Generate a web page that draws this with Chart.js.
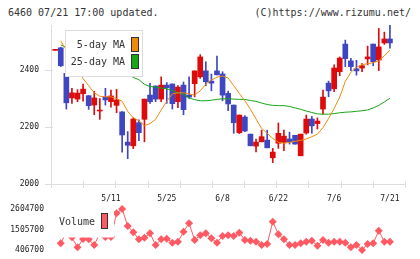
<!DOCTYPE html>
<html>
<head>
<meta charset="utf-8">
<script src="https://cdn.jsdelivr.net/npm/chart.js@4/dist/chart.umd.min.js"></script>
<style>
  body { margin: 0; background: #fff; }
  #wrap { position: relative; width: 420px; height: 259px; overflow: hidden; }
  .head { position: absolute; top: 7px; font: 10px "DejaVu Sans Mono", monospace; color: #333; white-space: pre; }
  canvas { position: absolute; left: 0; }
</style>
</head>
<body>
<div id="wrap">
  <div class="head" style="left:8px">6460 07/21 17:00 updated.</div>
  <div class="head" style="right:9px">(C)https://www.rizumu.net/</div>
  <canvas id="price" width="420" height="205" style="top:0"></canvas>
  <canvas id="volume" width="420" height="60" style="top:199px"></canvas>
</div>
<script>
// trading days shown on the chart
const dates = ["4/21","4/22","4/23","4/24","4/27","4/28","4/30","5/1","5/7","5/8",
  "5/11","5/12","5/13","5/14","5/15","5/18","5/19","5/20","5/21","5/22",
  "5/25","5/26","5/27","5/28","5/29","6/1","6/2","6/3","6/4","6/5",
  "6/8","6/9","6/10","6/11","6/12","6/15","6/16","6/17","6/18","6/19",
  "6/22","6/23","6/24","6/25","6/26","6/29","6/30","7/1","7/2","7/3",
  "7/6","7/7","7/8","7/9","7/10","7/13","7/14","7/15","7/16","7/17","7/21"];
const labelIdx = [10, 20, 30, 40, 50, 60];
const priceTicks = [2000, 2200, 2400];
const volumeTicks = [406700, 1505700, 2604700];

const opens  = [2469,2478,2388,2302,2298,2317,2310,2277,2256,2306,2289,2276,2253,2147,2134,2215,2227,2312,2344,2298,
  2347,2351,2289,2347,2312,2352,2376,2397,2361,2397,2386,2318,2277,2180,2235,2175,2133,2148,2154,2092,
  2143,2146,2158,2171,2099,2179,2228,2212,2263,2354,2334,2394,2491,2432,2404,2407,2439,2491,2435,2495,2509];
const highs  = [2469,2480,2390,2336,2331,2351,2310,2325,2300,2336,2330,2332,2254,2184,2233,2225,2298,2353,2344,2376,
  2356,2351,2345,2358,2376,2397,2454,2429,2386,2449,2394,2326,2277,2242,2240,2175,2158,2189,2189,2125,
  2214,2189,2182,2171,2175,2242,2237,2232,2330,2361,2418,2446,2505,2441,2434,2423,2484,2491,2546,2533,2558];
const lows   = [2469,2412,2263,2283,2289,2291,2262,2243,2227,2277,2270,2250,2112,2089,2124,2152,2148,2283,2289,2289,
  2283,2263,2268,2243,2300,2306,2371,2345,2327,2383,2292,2257,2178,2177,2184,2134,2113,2148,2127,2075,
  2125,2117,2140,2140,2099,2175,2178,2193,2245,2306,2324,2380,2412,2398,2382,2394,2418,2415,2398,2490,2477];
const closes = [2469,2415,2285,2320,2319,2333,2275,2302,2257,2295,2309,2295,2172,2136,2228,2180,2298,2289,2298,2347,
  2338,2282,2340,2261,2305,2397,2446,2359,2354,2383,2312,2281,2215,2242,2186,2134,2147,2166,2127,2112,
  2178,2168,2148,2140,2175,2228,2204,2221,2305,2327,2407,2442,2440,2412,2397,2415,2446,2429,2481,2509,2495];

const ma5  = [null,2502,2470,2435,2400,2370,2345,2320,2308,2306,2306,2300,2290,2255,2232,2222,2205,2212,2227,2260,
  2290,2316,2320,2320,2316,2312,2327,2350,2365,2375,2379,2372,2345,2318,2292,2262,2228,2195,2178,2160,
  2146,2143,2146,2150,2153,2158,2166,2175,2198,2230,2265,2305,2360,2392,2410,2419,2422,2426,2432,2450,2470];
const ma25 = [null,2488,2480,2472,2465,2458,2450,2443,2436,2428,2420,2410,2398,2385,2374,2366,2350,2342,2340,2337,
  2334,2328,2320,2314,2302,2296,2292,2292,2294,2297,2299,2299,2298,2297,2297,2293,2290,2284,2279,2276,
  2275,2275,2272,2267,2262,2256,2251,2246,2245,2245,2247,2250,2252,2253,2255,2257,2260,2267,2276,2288,2301];

const volumes = [null,764000,1350000,1086000,550000,996000,978000,675000,1300000,1100000,1100000,2372000,2604700,1693000,1354000,978000,1068000,1300000,675000,978000,
  1014000,800000,853000,1390000,1836000,943000,1193000,1300000,1032000,800000,1157000,1193000,1157000,1336000,943000,907000,853000,675000,728000,1926000,
  1247000,978000,675000,675000,764000,853000,907000,639000,943000,800000,853000,853000,800000,550000,675000,406700,728000,764000,1443000,853000,853000];

const RED = "#dd0b0b", BLUE = "#3e46c2", ORANGE = "#f08a0c", GREEN = "#16a616", VOL = "#ff5a64", AXIS = "#dddddd";
const tickFont = { family: "DejaVu Sans Mono", size: 8 };
const xMin = -0.75, xMax = 62.7;

const candleColor = closes.map((c, i) => c >= opens[i] ? RED : BLUE);

const axisMarks = {
  id: "axisMarks",
  afterDraw(chart) {
    if (chart.canvas.id !== "price") return;
    const { ctx, chartArea: a, scales } = chart;
    ctx.save();
    ctx.strokeStyle = AXIS;
    ctx.lineWidth = 1;
    ctx.beginPath();
    for (let k = 0; k <= 11; k++) {
      const x = Math.round(a.left + (a.right - a.left) * k / 11) + 0.5;
      ctx.moveTo(x, a.bottom - 3);
      ctx.lineTo(x, a.bottom + 4);
    }
    priceTicks.forEach(v => {
      const y = Math.round(scales.y.getPixelForValue(v)) + 0.5;
      ctx.moveTo(a.left - 6, y);
      ctx.lineTo(a.left + 2, y);
    });
    ctx.stroke();
    ctx.restore();
  }
};

function swatch(ctx, x, y, w, h, color) {
  ctx.fillStyle = color;
  ctx.fillRect(x, y, w, h);
  ctx.strokeStyle = "#333";
  ctx.lineWidth = 1;
  ctx.strokeRect(x + 0.5, y + 0.5, w - 1, h - 1);
}

const boxLegend = {
  id: "boxLegend",
  afterDatasetsDraw(chart) {
    const ctx = chart.ctx;
    ctx.save();
    ctx.font = "10px 'DejaVu Sans Mono'";
    ctx.textAlign = "right";
    ctx.textBaseline = "middle";
    if (chart.canvas.id === "price") {
      ctx.fillStyle = "#fff";
      ctx.fillRect(65, 30, 78, 47);
      ctx.strokeStyle = AXIS;
      ctx.strokeRect(65.5, 30.5, 77, 46);
      ctx.fillStyle = "#333";
      ctx.fillText("5-day MA", 125, 45);
      ctx.fillText("25-day MA", 125, 62);
      swatch(ctx, 131, 37, 8, 15, ORANGE);
      swatch(ctx, 131, 54, 8, 15, GREEN);
    } else {
      // canvas starts at page y 199
      ctx.fillStyle = "#fff";
      ctx.fillRect(56, 8, 58, 30.5);
      ctx.fillStyle = "#333";
      ctx.fillText("Volume", 95, 23);
      swatch(ctx, 101, 14, 7, 16, VOL);
    }
    ctx.restore();
  }
};

const plain = v => String(v);

new Chart(document.getElementById("price"), {
  type: "bar",
  data: {
    datasets: [
      { type: "line", label: "5-day MA", data: ma5.map((v, i) => ({ x: i, y: v })), borderColor: ORANGE, borderWidth: 1, pointRadius: 0, order: 0 },
      { type: "line", label: "25-day MA", data: ma25.map((v, i) => ({ x: i, y: v })), borderColor: GREEN, borderWidth: 1, pointRadius: 0, order: 0 },
      { label: "body", data: opens.map((o, i) => ({ x: i, y: [o, closes[i]] })), backgroundColor: candleColor, barThickness: 5, minBarLength: 1, grouped: false, order: 1 },
      { label: "wick", data: lows.map((l, i) => ({ x: i, y: [l, highs[i]] })), backgroundColor: candleColor, barThickness: 1, minBarLength: 1, grouped: false, order: 2 }
    ]
  },
  options: {
    responsive: false,
    animation: false,
    devicePixelRatio: 1,
    layout: { padding: { top: 25, right: 15, left: 0, bottom: 0 } },
    plugins: { legend: { display: false }, tooltip: { enabled: false } },
    scales: {
      x: {
        type: "linear", min: xMin, max: xMax, offset: false,
        grid: { display: false, drawTicks: false },
        border: { color: AXIS },
        afterBuildTicks: s => { s.ticks = labelIdx.map(v => ({ value: v })); },
        afterFit: s => { s.height = 21; },
        ticks: { font: tickFont, color: "#222", padding: 10, maxRotation: 0, autoSkip: false, callback: v => dates[v] }
      },
      y: {
        min: 2000, max: 2558,
        grid: { display: false, drawTicks: false },
        border: { color: AXIS },
        afterBuildTicks: s => { s.ticks = priceTicks.map(v => ({ value: v })); },
        afterFit: s => { s.width = 51; s.paddingTop = 0; s.paddingBottom = 0; },
        ticks: { font: tickFont, color: "#222", padding: 12, callback: plain }
      }
    }
  },
  plugins: [axisMarks, boxLegend]
});

new Chart(document.getElementById("volume"), {
  type: "line",
  data: {
    datasets: [{
      label: "Volume",
      data: volumes.map((v, i) => ({ x: i, y: v })),
      borderColor: VOL, backgroundColor: VOL, borderWidth: 1,
      pointStyle: "rectRot", pointRadius: 4, pointBorderWidth: 0, clip: false
    }]
  },
  options: {
    responsive: false,
    animation: false,
    devicePixelRatio: 1,
    layout: { padding: { top: 10, right: 15, left: 0, bottom: 9 } },
    plugins: { legend: { display: false }, tooltip: { enabled: false } },
    scales: {
      x: { type: "linear", min: xMin, max: xMax, display: false },
      y: {
        min: 406700, max: 2604700,
        grid: { display: false, drawTicks: false },
        border: { display: false },
        afterBuildTicks: s => { s.ticks = volumeTicks.map(v => ({ value: v })); },
        afterFit: s => { s.width = 51; s.paddingTop = 0; s.paddingBottom = 0; },
        ticks: { font: tickFont, color: "#222", padding: 7, callback: plain }
      }
    }
  },
  plugins: [boxLegend]
});
</script>
</body>
</html>
